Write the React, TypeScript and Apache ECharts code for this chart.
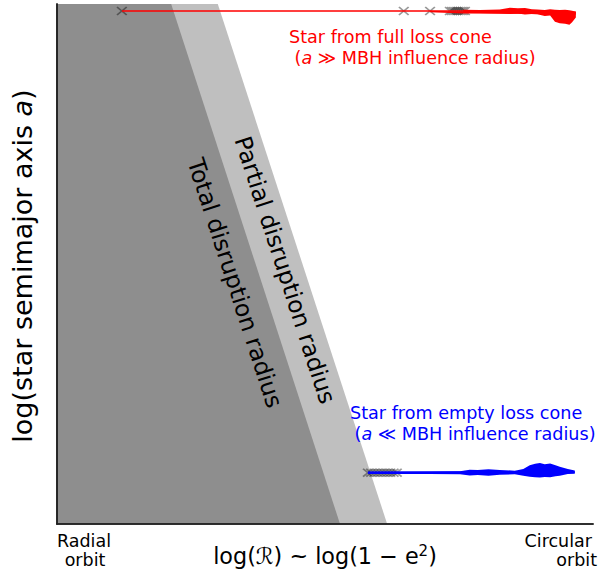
import React, { useEffect, useRef } from "react";
import * as echarts from "echarts";

// Schematic axes (arbitrary log units, 0..100)
const xRange = [0, 100];
const yRange = [0, 100];

// Disruption-radius boundaries: [x, y] points (region to the left is shaded)
const totalBoundary = [[0, 100], [21.3, 100], [52.8, 0]];
const partialBoundary = [[0, 100], [30.0, 100], [61.6, 0]];

// Full loss cone star (red) track
const redTrackX = [12.1, 64.7, 75.6, 82.6, 88.0, 92.0, 96.8];
const redTrackY = [98.65, 98.65, 98.65, 98.7, 98.65, 98.6, 98.4];
const redTrack2X = [69.6, 76.0, 84.0, 92.0, 96.8];
const redTrack2Y = [98.55, 98.35, 98.3, 98.2, 98.1];
const redEnvX = [75.8, 78.9, 82.6, 84.5, 86.0, 87.3, 88.6, 89.6, 91.0, 92.0, 92.9, 93.8, 94.8, 95.6, 96.1, 96.8];
const redEnvUpper = [98.9, 98.85, 98.95, 99.3, 99.2, 99.25, 99.0, 98.95, 98.85, 99.0, 98.9, 98.85, 98.9, 98.8, 98.7, 98.5];
const redEnvLower = [98.3, 98.25, 98.15, 98.1, 98.15, 98.0, 98.1, 98.05, 97.7, 97.8, 96.6, 96.3, 96.2, 96.0, 96.5, 97.4];
const redMarkersX = [12.1, 64.7, 69.6, 73.3, 73.7, 74.1, 74.5, 74.9, 75.3, 75.7, 76.1];
const redMarkerY = 98.65;

// Empty loss cone star (blue) track
const blueTrackX = [58.0, 70.0, 80.0, 88.0, 96.6];
const blueTrackY = [9.87, 9.87, 9.9, 9.85, 9.9];
const blueEnvX = [58.0, 75.2, 77.0, 78.5, 80.5, 82.6, 85.4, 87.0, 88.2, 89.2, 90.1, 91.0, 92.0, 93.0, 93.8, 95.3, 96.6];
const blueEnvUpper = [10.05, 10.15, 10.45, 10.4, 10.55, 10.4, 10.25, 10.6, 11.3, 11.6, 11.75, 11.5, 11.65, 11.3, 11.0, 10.6, 10.3];
const blueEnvLower = [9.7, 9.55, 9.35, 9.4, 9.3, 9.45, 9.55, 9.3, 9.1, 9.0, 8.95, 9.05, 9.0, 9.2, 9.3, 9.6, 9.8];
const blueMarkersX = [58.0, 58.6, 59.2, 59.8, 60.4, 61.0, 61.6, 62.2, 62.8, 63.4];
const blueMarkerY = 9.87;

const FONT = '"DejaVu Sans", sans-serif';
const XMARK = "path://M0,1.2 L1.2,0 L5,3.8 L8.8,0 L10,1.2 L6.2,5 L10,8.8 L8.8,10 L5,6.2 L1.2,10 L0,8.8 L3.8,5 Z";

function envelope(xs: number[], up: number[], lo: number[], color: string, z: number) {
  return {
    type: "custom",
    z,
    silent: true,
    data: [[xs[0], up[0]]],
    renderItem: (params: any, api: any) => {
      if (params.dataIndex !== 0) return null;
      const pts: number[][] = [];
      for (let i = 0; i < xs.length; i++) pts.push(api.coord([xs[i], up[i]]));
      for (let i = xs.length - 1; i >= 0; i--) pts.push(api.coord([xs[i], lo[i]]));
      return { type: "polygon", shape: { points: pts }, style: { fill: color } };
    },
  };
}

export default function App() {
  const ref = useRef<HTMLDivElement>(null);
  useEffect(() => {
    if (!ref.current) return;
    const chart = echarts.init(ref.current, null, { renderer: "svg" });
    const axisBase = {
      type: "value",
      axisTick: { show: false },
      axisLabel: { show: false },
      splitLine: { show: false },
      axisLine: { show: true, lineStyle: { color: "#222", width: 1.6 } },
      z: 10,
    };
    const rot = (-72 * Math.PI) / 180;
    chart.setOption({
      animation: false,
      backgroundColor: "#fff",
      grid: { left: 57, top: 4, right: 18, bottom: 52 },
      xAxis: [
        { ...axisBase, min: xRange[0], max: xRange[1], position: "bottom" },
        { ...axisBase, min: xRange[0], max: xRange[1], position: "top" },
      ],
      yAxis: [
        { ...axisBase, min: yRange[0], max: yRange[1], position: "left" },
        { ...axisBase, min: yRange[0], max: yRange[1], position: "right" },
      ],
      series: [
        {
          type: "line",
          data: partialBoundary,
          symbol: "none",
          lineStyle: { width: 0 },
          areaStyle: { color: "#bfbfbf", opacity: 1 },
          z: 1,
          silent: true,
        },
        {
          type: "line",
          data: totalBoundary,
          symbol: "none",
          lineStyle: { width: 0 },
          areaStyle: { color: "#8e8e8e", opacity: 1 },
          z: 2,
          silent: true,
        },
        {
          type: "scatter",
          data: redMarkersX.map((x) => [x, redMarkerY]),
          symbol: XMARK,
          symbolSize: [11, 9],
          itemStyle: { color: "rgba(0,0,0,0.5)" },
          z: 3,
        },
        {
          type: "scatter",
          data: blueMarkersX.map((x) => [x, blueMarkerY]),
          symbol: XMARK,
          symbolSize: [11, 9],
          itemStyle: { color: "rgba(0,0,0,0.5)" },
          z: 3,
        },
        {
          type: "line",
          data: redTrackX.map((x, i) => [x, redTrackY[i]]),
          symbol: "none",
          lineStyle: { color: "#ff0000", width: 1.6 },
          z: 4,
        },
        {
          type: "line",
          data: redTrack2X.map((x, i) => [x, redTrack2Y[i]]),
          symbol: "none",
          lineStyle: { color: "#ff0000", width: 1.6 },
          z: 4,
        },
        envelope(redEnvX, redEnvUpper, redEnvLower, "#ff0000", 4),
        {
          type: "line",
          data: blueTrackX.map((x, i) => [x, blueTrackY[i]]),
          symbol: "none",
          lineStyle: { color: "#0000ff", width: 2.6 },
          z: 4,
        },
        envelope(blueEnvX, blueEnvUpper, blueEnvLower, "#0000ff", 4),
      ],
      graphic: [
        {
          type: "text", x: 285, y: 270, rotation: rot, z: 100,
          style: { text: "Partial disruption radius", fontSize: 23.5, fontFamily: FONT, fill: "#000", align: "center", verticalAlign: "middle" },
        },
        {
          type: "text", x: 235, y: 283, rotation: rot, z: 100,
          style: { text: "Total disruption radius", fontSize: 23.5, fontFamily: FONT, fill: "#000", align: "center", verticalAlign: "middle" },
        },
        {
          type: "text", x: 289, y: 37, z: 100,
          style: { text: "Star from full loss cone", fontSize: 17.6, fontFamily: FONT, fill: "#ff0000", align: "left", verticalAlign: "middle" },
        },
        {
          type: "text", x: 289, y: 58, z: 100,
          style: {
            text: " ({i|a} ≫ MBH influence radius)", fontSize: 17.6, fontFamily: FONT, fill: "#ff0000", align: "left", verticalAlign: "middle",
            rich: { i: { fontStyle: "italic", fontSize: 17.6, fontFamily: FONT, fill: "#ff0000" } },
          },
        },
        {
          type: "text", x: 350, y: 413, z: 100,
          style: { text: "Star from empty loss cone", fontSize: 17.6, fontFamily: FONT, fill: "#0000ff", align: "left", verticalAlign: "middle" },
        },
        {
          type: "text", x: 349, y: 434, z: 100,
          style: {
            text: " ({i|a} ≪ MBH influence radius)", fontSize: 17.6, fontFamily: FONT, fill: "#0000ff", align: "left", verticalAlign: "middle",
            rich: { i: { fontStyle: "italic", fontSize: 17.6, fontFamily: FONT, fill: "#0000ff" } },
          },
        },
        {
          type: "text", x: 22, y: 266, rotation: Math.PI / 2, z: 100,
          style: {
            text: "log(star semimajor axis {i|a})", fontSize: 27, fontFamily: FONT, fill: "#000", align: "center", verticalAlign: "middle",
            rich: { i: { fontStyle: "italic", fontSize: 27, fontFamily: FONT, fill: "#000" } },
          },
        },
        {
          type: "text", x: 325, y: 556, z: 100,
          style: {
            text: "{a|log(ℛ) ~ log(1 − e}{s|2}{a|)}", fill: "#000", align: "center", verticalAlign: "middle",
            rich: {
              a: { fontSize: 22.3, fontFamily: FONT, fill: "#000", lineHeight: 26 },
              s: { fontSize: 15, fontFamily: FONT, fill: "#000", verticalAlign: "top", lineHeight: 26 },
            },
          },
        },
        {
          type: "text", x: 84, y: 541, z: 100,
          style: { text: "Radial", fontSize: 17.5, fontFamily: FONT, fill: "#000", align: "center", verticalAlign: "middle" },
        },
        {
          type: "text", x: 85, y: 560, z: 100,
          style: { text: "orbit", fontSize: 17.5, fontFamily: FONT, fill: "#000", align: "center", verticalAlign: "middle" },
        },
        {
          type: "text", x: 592, y: 541, z: 100,
          style: { text: "Circular", fontSize: 17.5, fontFamily: FONT, fill: "#000", align: "right", verticalAlign: "middle" },
        },
        {
          type: "text", x: 597, y: 560, z: 100,
          style: { text: "orbit", fontSize: 17.5, fontFamily: FONT, fill: "#000", align: "right", verticalAlign: "middle" },
        },
      ],
    });
    return () => chart.dispose();
  }, []);
  return (
    <div
      ref={ref}
      style={{ position: "fixed", left: 0, top: 0, width: 611, height: 576 }}
    />
  );
}
